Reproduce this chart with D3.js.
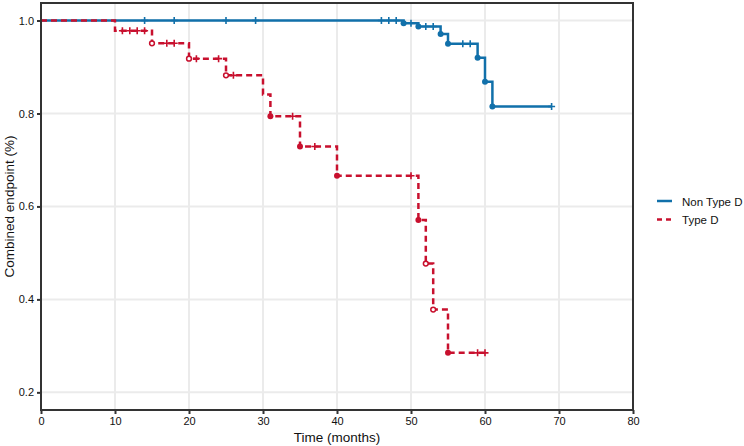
<!DOCTYPE html>
<html lang="en">
<head>
    <meta charset="UTF-8">
    <title>Combined endpoint</title>
    <script src="https://d3js.org/d3.v7.min.js"></script>
    <style>
        body { margin: 0; background: #fff; }
        svg { display: block; font-family: "Liberation Sans", Arial, sans-serif; }
        .grid line { stroke: #ebebeb; stroke-width: 2; }
        .axis path, .axis line { stroke: #333; }
        .axis text { fill: #111; font-size: 11px; }
    </style>
</head>
<body>
<script>
    // Non Type D (solid blue)
    const nonTypeDTimes = [0, 49, 51, 54, 55, 59, 60, 61, 69];
    const nonTypeDSurv  = [1, 0.994, 0.987, 0.971, 0.950, 0.920, 0.868, 0.815, 0.815];
    const nonTypeDCensor = [14, 18, 25, 29, 46, 47, 48, 50, 52, 53, 57, 58, 69];
    const nonTypeDDots = [49, 51, 54, 55, 59, 60, 61];
    const nonTypeDHollow = [];

    // Type D (dashed red)
    const typeDTimes = [0, 10, 15, 20, 25, 30, 31, 35, 40, 51, 52, 53, 55, 60];
    const typeDSurv  = [1, 0.978, 0.951, 0.918, 0.882, 0.841, 0.794, 0.729, 0.666, 0.571, 0.477, 0.378, 0.285, 0.285];
    const typeDCensor = [11, 12, 13, 14, 17, 18, 21, 24, 26, 34, 37, 50, 59, 60];
    const typeDDots = [15, 20, 25, 31, 35, 40, 51, 52, 53, 55];
    const typeDHollow = [15, 20, 25, 52, 53];

    const xTicks = [0, 10, 20, 30, 40, 50, 60, 70, 80];
    const yTicks = [0.2, 0.4, 0.6, 0.8, 1.0];

    const width = 744, height = 446;
    const m = { left: 41, right: 633, top: 3, bottom: 410 };

    const svg = d3.select("body").append("svg")
        .attr("width", width).attr("height", height);

    const x = d3.scaleLinear().domain([0, 80]).range([m.left, m.right]);
    const y = d3.scaleLinear().domain([0.162, 1.0377]).range([m.bottom, m.top]);

    // grid
    const grid = svg.append("g").attr("class", "grid");
    grid.selectAll(".gx").data(xTicks).enter().append("line")
        .attr("x1", d => x(d)).attr("x2", d => x(d))
        .attr("y1", m.top).attr("y2", m.bottom);
    grid.selectAll(".gy").data(yTicks).enter().append("line")
        .attr("x1", m.left).attr("x2", m.right)
        .attr("y1", d => y(d)).attr("y2", d => y(d));

    const series = [
        { name: "Non Type D", color: "#1170aa", dash: null, times: nonTypeDTimes, surv: nonTypeDSurv,
          censor: nonTypeDCensor, dots: nonTypeDDots, hollow: nonTypeDHollow },
        { name: "Type D", color: "#c8102e", dash: "6,4", times: typeDTimes, surv: typeDSurv,
          censor: typeDCensor, dots: typeDDots, hollow: typeDHollow }
    ];

    // survival value at time t (step function)
    function survAt(s, t) {
        let v = s.surv[0];
        for (let i = 0; i < s.times.length; i++) {
            if (s.times[i] <= t) v = s.surv[i];
        }
        return v;
    }

    const line = d3.line().x(d => x(d[0])).y(d => y(d[1])).curve(d3.curveStepAfter);

    series.forEach(s => {
        const g = svg.append("g");
        const pts = s.times.map((t, i) => [t, s.surv[i]]);
        g.append("path")
            .attr("d", line(pts))
            .attr("fill", "none")
            .attr("stroke", s.color)
            .attr("stroke-width", 2.5)
            .attr("stroke-dasharray", s.dash);

        // censor marks
        g.selectAll(".c").data(s.censor).enter().append("path")
            .attr("d", d => {
                const cx = x(d), cy = y(survAt(s, d));
                return `M${cx - 3.5},${cy}H${cx + 3.5}M${cx},${cy - 3.5}V${cy + 3.5}`;
            })
            .attr("stroke", s.color)
            .attr("stroke-width", 1.6);

        // event points
        g.selectAll(".d").data(s.dots).enter().append("circle")
            .attr("cx", d => x(d))
            .attr("cy", d => y(survAt(s, d)))
            .attr("r", d => s.hollow.includes(d) ? 2.4 : 3)
            .attr("fill", d => s.hollow.includes(d) ? "#fff" : s.color)
            .attr("stroke", s.color)
            .attr("stroke-width", d => s.hollow.includes(d) ? 1.5 : 0);
    });

    // axes
    const xAxis = svg.append("g").attr("class", "axis")
        .attr("transform", `translate(0,${m.bottom})`)
        .call(d3.axisBottom(x).tickValues(xTicks).tickSize(4).tickPadding(3).tickFormat(d3.format("d")));
    const yAxis = svg.append("g").attr("class", "axis")
        .attr("transform", `translate(${m.left},0)`)
        .call(d3.axisLeft(y).tickValues(yTicks).tickSize(4).tickPadding(3).tickFormat(d3.format(".1f")));
    [xAxis, yAxis].forEach(a => {
        a.select(".domain").remove();
        a.selectAll(".tick line").attr("stroke-width", 2);
    });

    // panel border
    svg.append("rect")
        .attr("x", m.left).attr("y", m.top)
        .attr("width", m.right - m.left).attr("height", m.bottom - m.top)
        .attr("fill", "none").attr("stroke", "#333").attr("stroke-width", 2);

    // titles
    svg.append("text")
        .attr("x", (m.left + m.right) / 2).attr("y", 442)
        .attr("text-anchor", "middle").attr("font-size", 13.5).attr("fill", "#111")
        .text("Time (months)");
    svg.append("text")
        .attr("transform", `translate(14,${(m.top + m.bottom) / 2}) rotate(-90)`)
        .attr("text-anchor", "middle").attr("font-size", 13.5).attr("fill", "#111")
        .text("Combined endpoint (%)");

    // legend
    const legend = svg.append("g").attr("transform", "translate(657,201)");
    series.forEach((s, i) => {
        const row = legend.append("g").attr("transform", `translate(0,${i * 18.5})`);
        row.append("line")
            .attr("x1", 0).attr("x2", 15)
            .attr("stroke", s.color).attr("stroke-width", 2.5)
            .attr("stroke-dasharray", s.dash ? "5,4" : null);
        row.append("text")
            .attr("x", 25).attr("y", 4.5)
            .attr("font-size", 11.5).attr("fill", "#111")
            .text(s.name);
    });
</script>
</body>
</html>
